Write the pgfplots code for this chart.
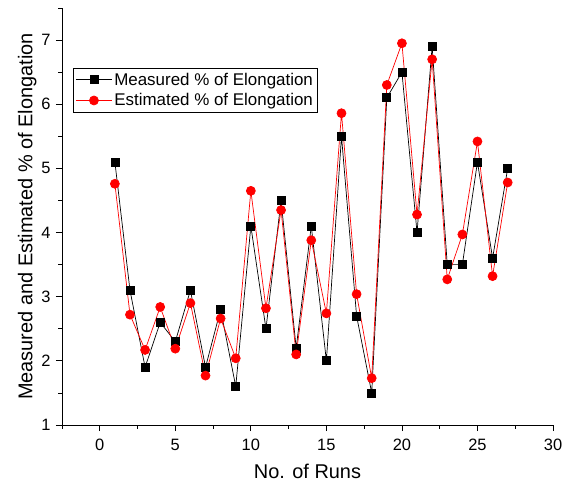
\documentclass[border=0pt]{standalone}
\usepackage{pgfplots}
\pgfplotsset{compat=1.18}
\usepackage{fontspec}
\setmainfont{Liberation Sans}
\pgfplotstableread{
x meas est
1 5.1 4.76
2 3.1 2.72
3 1.9 2.17
4 2.6 2.84
5 2.3 2.19
6 3.1 2.90
7 1.9 1.77
8 2.8 2.66
9 1.6 2.04
10 4.1 4.65
11 2.5 2.82
12 4.5 4.35
13 2.2 2.10
14 4.1 3.88
15 2.0 2.74
16 5.5 5.86
17 2.7 3.04
18 1.5 1.73
19 6.1 6.30
20 6.5 6.95
21 4.0 4.28
22 6.9 6.70
23 3.5 3.27
24 3.5 3.97
25 5.1 5.42
26 3.6 3.32
27 5.0 4.78
}\datatable
\begin{document}
\begin{tikzpicture}
\begin{axis}[
  scale only axis, width=491bp, height=417bp,
  xmin=-2.5, xmax=30, ymin=1, ymax=7.5,
  axis x line*=bottom, axis y line*=left,
  xtick={0,5,...,30}, ytick={1,...,7},
  minor xtick={-2.5,2.5,...,27.5}, minor ytick={1.5,2.5,...,7.5},
  tick align=outside,
  major tick length=6bp, minor tick length=3.5bp,
  every tick/.style={black, line width=0.8bp},
  axis line style={line width=0.8bp},
  /pgf/number format/assume math mode=true,
  tick label style={font=\fontsize{16.5}{19}\selectfont},
  xticklabel style={yshift=-5bp},
  yticklabel style={xshift=-2bp},
  label style={font=\fontsize{20}{24}\selectfont},
  xlabel={No. of Runs},
  xlabel style={yshift=-6bp},
  ylabel={Measured and Estimated \% of Elongation},
  ylabel style={yshift=-2bp},
  legend style={at={(0.022,0.856)}, anchor=north west,
    font=\fontsize{17}{20}\selectfont, draw=black, line width=0.6bp,
    inner sep=2.5bp, row sep=3bp},
  legend cell align=left,
  legend image code/.code={\draw[mark repeat=2,mark phase=2] plot coordinates {(0bp,0bp) (18bp,0bp) (36bp,0bp)};},
]
\addplot[black, line width=0.7bp, mark=square*, mark size=4bp, mark options={solid}] table[x=x,y=meas]{\datatable};
\addlegendentry{Measured \% of Elongation}
\addplot[red, line width=0.7bp, mark=*, mark size=4.5bp, mark options={solid}] table[x=x,y=est]{\datatable};
\addlegendentry{Estimated \% of Elongation}
\end{axis}
\path (current axis.south west) ++(-62bp,-68bp) rectangle ++(567bp,493bp);
\end{tikzpicture}
\end{document}
